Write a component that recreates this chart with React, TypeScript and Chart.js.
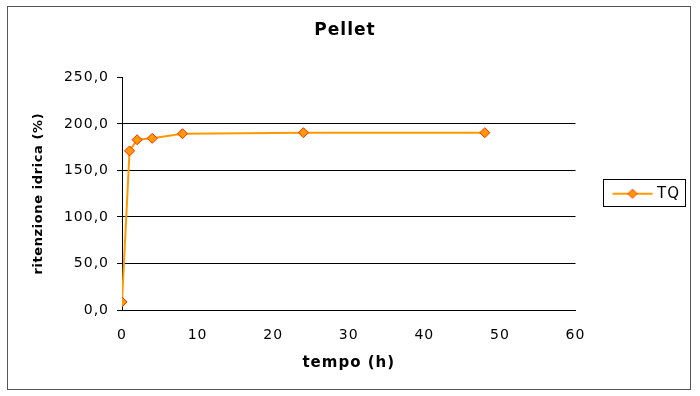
import React, { useEffect, useRef } from "react";
import { Chart, registerables } from "chart.js";

Chart.register(...registerables);

const chartTitle = "Pellet";
const xTitle = "tempo (h)";
const yTitle = "ritenzione idrica (%)";
const seriesName = "TQ";
const hours = [0, 1, 2, 4, 8, 24, 48];
const retention = [8.6, 171.0, 183.0, 184.5, 189.5, 190.6, 190.6];
const xTicks = [0, 10, 20, 30, 40, 50, 60];
const yTicks = [0, 50, 100, 150, 200, 250];

const LINE = "#FF9900";
const MARK_BORDER = "#FF2A00";
const FONT = "Verdana, 'DejaVu Sans', sans-serif";
const SPACING = "1px";

function makeLegendIcon(): HTMLCanvasElement {
  const c = document.createElement("canvas");
  c.width = 42;
  c.height = 12;
  const ctx = c.getContext("2d")!;
  ctx.strokeStyle = LINE;
  ctx.lineWidth = 2;
  ctx.beginPath();
  ctx.moveTo(1, 6);
  ctx.lineTo(41, 6);
  ctx.stroke();
  ctx.fillStyle = LINE;
  ctx.strokeStyle = MARK_BORDER;
  ctx.lineWidth = 1;
  ctx.beginPath();
  ctx.moveTo(21, 1.5);
  ctx.lineTo(25.5, 6);
  ctx.lineTo(21, 10.5);
  ctx.lineTo(16.5, 6);
  ctx.closePath();
  ctx.fill();
  ctx.stroke();
  return c;
}

export default function App() {
  const ref = useRef<HTMLCanvasElement>(null);
  useEffect(() => {
    document.body.style.margin = "0";
    const icon = makeLegendIcon();
    const setSpacing = (chart: any) => {
      (chart.ctx as any).letterSpacing = SPACING;
    };
    const framePlugin = {
      id: "frame",
      beforeInit: setSpacing,
      beforeUpdate: setSpacing,
      beforeLayout: setSpacing,
      beforeDraw: setSpacing,
      afterDraw(chart: any) {
        const ctx = chart.ctx;
        ctx.save();
        ctx.strokeStyle = "#555";
        ctx.lineWidth = 1;
        ctx.strokeRect(7.5, 6.5, 683, 383);
        const lg = chart.legend;
        if (lg && lg.legendHitBoxes && lg.legendHitBoxes.length) {
          const hb = lg.legendHitBoxes[0];
          ctx.strokeStyle = "#000";
          ctx.strokeRect(Math.round(hb.left) - 12.5, Math.round(hb.top) - 6.5, 82, Math.round(hb.height) + 12);
        }
        ctx.restore();
      },
    };
    const chart = new Chart(ref.current!, {
      type: "line",
      data: {
        datasets: [
          {
            label: seriesName,
            data: hours.map((h, i) => ({ x: h, y: retention[i] })),
            borderColor: LINE,
            backgroundColor: LINE,
            borderWidth: 2,
            pointStyle: "rectRot",
            pointRadius: 5,
            pointBorderColor: MARK_BORDER,
            pointBackgroundColor: LINE,
            pointBorderWidth: 1,
            tension: 0,
          },
        ],
      },
      options: {
        animation: false,
        responsive: false,
        layout: { padding: { left: 0, right: 10, top: 0, bottom: 0 } },
        plugins: {
          title: {
            display: true,
            text: chartTitle,
            color: "#000",
            font: { family: FONT, size: 17, weight: "bold" },
            padding: { top: 20, bottom: 37 },
          },
          legend: {
            display: true,
            position: "right",
            fullSize: false,
            labels: {
              usePointStyle: true,
              pointStyleWidth: 34,
              padding: 40,
              color: "#000",
              font: { family: FONT, size: 15 },
              generateLabels: (c: any) => {
                const items = Chart.defaults.plugins.legend.labels.generateLabels(c);
                return items.map((it: any) => ({ ...it, pointStyle: icon }));
              },
            },
          },
          tooltip: { enabled: false },
        },
        scales: {
          x: {
            type: "linear",
            min: 0,
            max: 60,
            afterBuildTicks: (s: any) => {
              s.ticks = xTicks.map((v) => ({ value: v }));
            },
            afterFit: (s: any) => {
              s.height = 86;
            },
            grid: { display: false, drawOnChartArea: false, drawTicks: true, tickLength: 5, color: "#000" },
            border: { display: true, color: "#000", width: 1 },
            ticks: {
              color: "#000",
              padding: 12,
              font: { family: FONT, size: 14 },
            },
            title: {
              display: true,
              text: xTitle,
              color: "#000",
              font: { family: FONT, size: 15, weight: "bold" },
              padding: { top: 0, bottom: 24 },
            },
          },
          y: {
            type: "linear",
            min: 0,
            max: 250,
            afterBuildTicks: (s: any) => {
              s.ticks = yTicks.map((v) => ({ value: v }));
            },
            afterFit: (s: any) => {
              s.width = 122;
              if (!s.__patched) {
                s.__patched = true;
                const orig = s.drawTitle;
                s.drawTitle = function (...args: any[]) {
                  const ctx = this.ctx;
                  ctx.letterSpacing = "0.6px";
                  orig.apply(this, args);
                  ctx.letterSpacing = SPACING;
                };
              }
            },
            grid: {
              display: true,
              color: (ctx: any) => (ctx.tick && ctx.tick.value > 0 && ctx.tick.value < 250 ? "#000" : "rgba(0,0,0,0)"),
              tickColor: "#000",
              tickLength: 5,
              drawTicks: true,
            },
            border: { display: true, color: "#000", width: 1 },
            ticks: {
              color: "#000",
              padding: 8,
              font: { family: FONT, size: 14 },
              callback: (v: any) => Number(v).toFixed(1).replace(".", ","),
            },
            title: {
              display: true,
              text: yTitle,
              color: "#000",
              font: { family: FONT, size: 13, weight: "bold" },
              padding: { top: 31, bottom: 0 },
            },
          },
        },
      },
      plugins: [framePlugin],
    } as any);
    return () => chart.destroy();
  }, []);
  return (
    <div style={{ width: 700, height: 396, background: "#fff" }}>
      <canvas ref={ref} width={700} height={396} style={{ display: "block" }} />
    </div>
  );
}
